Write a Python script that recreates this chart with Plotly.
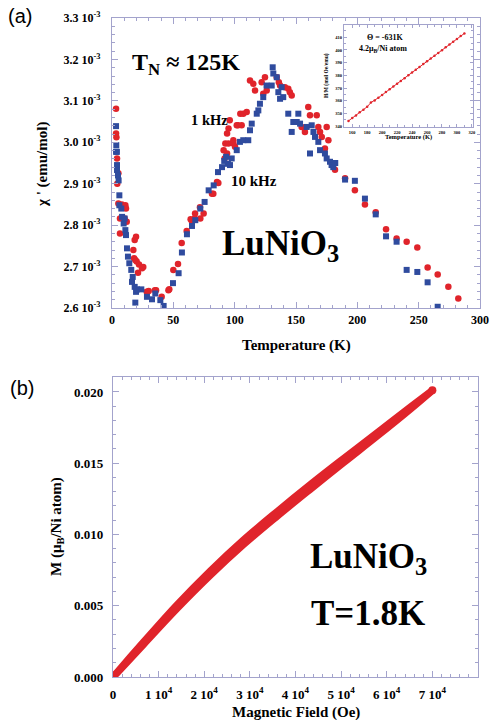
import plotly.graph_objects as go

# ---------------- Panel (a): chi' vs T ----------------
T_1khz = [3.3, 3.3, 3.6, 4.1, 4.3, 5.2, 5.2, 6.5, 6.5, 8.0, 10.3, 10.9, 11.4, 12.0,
          17.4, 18.0, 18.5, 19.0, 19.6, 20.1, 21.2, 22.0, 24.5, 25.5, 28.3, 29.9,
          35.0, 35.9, 40.5, 46.0, 46.7, 50.0, 53.8, 56.8, 60.9, 64.1, 65.2, 67.4,
          67.7, 71.7, 72.0, 74.7, 81.5, 82.6, 85.6, 86.7, 91.0, 91.8, 92.4, 93.8,
          93.8, 95.0, 95.0, 96.0, 98.9, 99.0, 100.3, 101.7, 102.7, 104.6, 105.7,
          107.0, 109.8, 112.5, 115.2, 116.6, 122.0, 123.3, 124.7, 126.1, 134.3,
          136.0, 137.0, 141.0, 143.7, 145.0, 146.5, 154.6, 157.3, 160.0, 161.4,
          166.9, 168.2, 169.6, 171.0, 173.6, 175.0, 176.4, 181.8, 190.0, 198.0,
          206.2, 215.0, 223.4, 232.0, 240.2, 248.9, 257.3, 265.5, 274.2, 282.3]
chi_1khz = [3.081, 3.021, 3.012, 2.961, 2.900, 2.925, 2.852, 2.816, 2.780, 2.850,
            2.816, 2.848, 2.840, 2.808, 2.740, 2.720, 2.764, 2.716, 2.772, 2.712,
            2.685, 2.705, 2.696, 2.699, 2.639, 2.641, 2.643, 2.643, 2.627, 2.643,
            2.645, 2.692, 2.706, 2.757, 2.786, 2.814, 2.808, 2.816, 2.828, 2.843,
            2.816, 2.828, 2.876, 2.876, 2.904, 2.902, 2.981, 2.961, 2.997, 3.021,
            2.973, 3.033, 2.997, 3.053, 3.005, 2.997, 2.989, 3.041, 3.041, 3.069,
            3.041, 3.069, 3.073, 3.149, 3.141, 3.125, 3.145, 3.117, 3.157, 3.125,
            3.157, 3.145, 3.137, 3.133, 3.129, 3.121, 3.113, 3.037, 3.025, 3.085,
            3.065, 3.065, 3.037, 3.025, 3.013, 2.985, 3.037, 3.005, 2.934, 2.913,
            2.884, 2.850, 2.831, 2.790, 2.768, 2.760, 2.746, 2.698, 2.681, 2.651,
            2.623]

T_10khz = [3.3, 3.3, 3.5, 4.0, 4.1, 4.1, 4.9, 5.4, 6.0, 6.0, 7.6, 8.2, 9.5, 10.3,
           10.9, 11.4, 12.2, 13.0, 14.1, 15.7, 16.3, 16.9, 18.5, 19.0, 19.6, 20.4,
           23.9, 28.5, 32.6, 35.3, 39.4, 42.1, 49.7, 54.3, 57.0, 61.1, 65.2, 67.9,
           72.0, 75.5, 78.8, 82.9, 86.4, 89.7, 91.5, 93.0, 94.5, 96.2, 97.6, 101.7,
           104.3, 107.0, 111.1, 112.5, 113.9, 118.0, 119.3, 120.6, 123.3, 126.0,
           130.2, 131.0, 131.5, 134.3, 135.6, 137.0, 138.3, 139.6, 143.7, 146.5,
           147.8, 150.6, 151.9, 153.3, 158.7, 161.4, 162.8, 164.2, 165.5, 168.2,
           169.6, 173.6, 175.0, 177.7, 179.0, 180.4, 182.0, 190.0, 198.0, 206.2,
           215.0, 223.4, 232.0, 240.2, 248.9, 257.3, 265.5]
chi_10khz = [3.039, 2.977, 2.993, 2.977, 2.945, 2.933, 2.920, 2.908, 2.872, 2.848,
             2.840, 2.820, 2.804, 2.816, 2.788, 2.776, 2.744, 2.724, 2.708, 2.692,
             2.663, 2.675, 2.651, 2.613, 2.639, 2.645, 2.645, 2.627, 2.621, 2.635,
             2.619, 2.605, 2.660, 2.684, 2.734, 2.778, 2.798, 2.812, 2.840, 2.856,
             2.884, 2.896, 2.928, 2.940, 2.955, 2.965, 2.948, 2.945, 2.961, 2.981,
             3.001, 3.005, 3.005, 3.029, 3.045, 3.069, 3.077, 3.093, 3.109, 3.137,
             3.137, 3.181, 3.166, 3.157, 3.121, 3.105, 3.133, 3.109, 3.069, 3.025,
             3.049, 3.049, 3.069, 3.045, 3.037, 2.973, 3.041, 3.025, 3.013, 3.001,
             2.981, 2.973, 2.961, 2.953, 2.945, 2.940, 2.950, 2.910, 2.907, 2.864,
             2.826, 2.773, 2.760, 2.692, 2.687, 2.662, 2.603]

chi_ticks = [2.6, 2.7, 2.8, 2.9, 3.0, 3.1, 3.2, 3.3]
chi_ticktext = ["2.6 10<sup>-3</sup>", "2.7 10<sup>-3</sup>", "2.8 10<sup>-3</sup>",
                "2.9 10<sup>-3</sup>", "3.0 10<sup>-3</sup>", "3.1 10<sup>-3</sup>",
                "3.2 10<sup>-3</sup>", "3.3 10<sup>-3</sup>"]
T_ticks = [0, 50, 100, 150, 200, 250, 300]

# ---------------- Inset: H/M vs T ----------------
T_inset = [155, 160, 165, 170, 175, 180, 185, 190, 195, 200, 205, 210, 215, 220,
           225, 230, 235, 240, 245, 250, 255, 260, 265, 270, 275, 280, 285, 290,
           295, 300, 305, 310]
HM_inset = [344.2, 346.4, 348.5, 350.9, 353.0, 355.3, 358.6, 360.2, 362.4, 364.6,
            366.9, 369.0, 371.2, 373.5, 375.6, 377.8, 380.1, 382.3, 384.4, 386.6,
            388.9, 391.0, 393.2, 395.5, 397.6, 399.8, 402.1, 404.3, 406.4, 408.6,
            410.9, 413.0]
inset_xticks = [160, 180, 200, 220, 240, 260, 280, 300, 320]
inset_yticks = [340, 350, 360, 370, 380, 390, 400, 410, 420]

# ---------------- Panel (b): M vs H ----------------
H_field = [0, 800, 6700, 14000, 21300, 28600, 36000, 43300, 50600, 58000, 65300, 70000]
M_up = [0.0, 0.00025, 0.00228, 0.00478, 0.00712, 0.00928, 0.01128, 0.01318, 0.01505,
        0.01692, 0.01882, 0.02010]
M_down = [0.0, 0.00030, 0.00246, 0.00506, 0.00744, 0.00962, 0.01162, 0.01352, 0.01535,
          0.01718, 0.01898, 0.02012]
H_ticks = [0, 10000, 20000, 30000, 40000, 50000, 60000, 70000, 80000]
H_ticktext = ["0", "1 10<sup>4</sup>", "2 10<sup>4</sup>", "3 10<sup>4</sup>",
              "4 10<sup>4</sup>", "5 10<sup>4</sup>", "6 10<sup>4</sup>",
              "7 10<sup>4</sup>", "8 10<sup>4</sup>"]
M_ticks = [0.0, 0.005, 0.010, 0.015, 0.020]
M_ticktext = ["0.000", "0.005", "0.010", "0.015", "0.020"]

RED = "#e0242b"
BLUE = "#2f4b9e"
AX = "#a3a3cc"
SERIF = "Liberation Serif"

fig = go.Figure()

fig.add_trace(go.Scatter(x=T_1khz, y=chi_1khz, mode="markers",
                         marker=dict(symbol="circle", size=6.5, color=RED),
                         xaxis="x", yaxis="y", showlegend=False))
fig.add_trace(go.Scatter(x=T_10khz, y=chi_10khz, mode="markers",
                         marker=dict(symbol="square", size=6, color=BLUE),
                         xaxis="x", yaxis="y", showlegend=False))
fig.add_trace(go.Scatter(x=T_inset, y=HM_inset, mode="lines+markers",
                         line=dict(color=RED, width=1),
                         marker=dict(size=2.5, color=RED),
                         xaxis="x3", yaxis="y3", showlegend=False))
fig.add_trace(go.Scatter(x=H_field, y=M_up, mode="lines", line=dict(color=RED, width=7, shape="spline"),
                         xaxis="x2", yaxis="y2", showlegend=False))
fig.add_trace(go.Scatter(x=H_field, y=M_down, mode="lines", line=dict(color=RED, width=7, shape="spline"),
                         xaxis="x2", yaxis="y2", showlegend=False))
fig.add_trace(go.Scatter(x=[H_field[-1], H_field[0]], y=[M_down[-1], M_down[0]], mode="markers",
                         marker=dict(size=8, color=RED),
                         xaxis="x2", yaxis="y2", showlegend=False))

def axstyle(**kw):
    d = dict(showline=True, linecolor=AX, linewidth=1.2, mirror="allticks",
             ticks="inside", ticklen=6, tickcolor=AX, tickwidth=1,
             showgrid=False, zeroline=False, automargin=False,
             tickfont=dict(family=SERIF, size=12, color="black", weight="bold"))
    d.update(kw)
    return d

W, H = 490, 720
fig.update_layout(
    width=W, height=H, margin=dict(l=0, r=0, t=0, b=0),
    paper_bgcolor="white", plot_bgcolor="white",
    xaxis=axstyle(domain=[112 / W, 480 / W], anchor="y", range=[0, 300],
                  tickvals=T_ticks,
                  minor=dict(ticks="inside", ticklen=3, dtick=10, tickcolor=AX)),
    yaxis=axstyle(domain=[1 - 308 / H, 1 - 18 / H], anchor="x", range=[2.6, 3.3],
                  tickvals=chi_ticks, ticktext=chi_ticktext, ticklabelstandoff=8,
                  minor=dict(ticks="inside", ticklen=3, dtick=0.02, tickcolor=AX)),
    xaxis2=axstyle(domain=[113 / W, 478 / W], anchor="y2", range=[0, 80000],
                   tickvals=H_ticks, ticktext=H_ticktext, ticklabelstandoff=5,
                   tickfont=dict(family=SERIF, size=13, color="black", weight="bold"),
                   minor=dict(ticks="inside", ticklen=3, dtick=2000, tickcolor=AX)),
    yaxis2=axstyle(domain=[1 - 677 / H, 1 - 377 / H], anchor="x2", range=[0, 0.02105],
                   tickvals=M_ticks, ticktext=M_ticktext, ticklabelstandoff=6,
                   tickfont=dict(family=SERIF, size=13, color="black", weight="bold"),
                   minor=dict(ticks="inside", ticklen=3, dtick=0.001, tickcolor=AX)),
    xaxis3=axstyle(domain=[344 / W, 473 / W], anchor="y3", range=[149, 321.5],
                   tickvals=inset_xticks, ticklen=3,
                   tickfont=dict(family=SERIF, size=4.5, color="black", weight="bold"),
                   minor=dict(ticks="inside", ticklen=2, dtick=10, tickcolor=AX)),
    yaxis3=axstyle(domain=[1 - 127 / H, 1 - 25 / H], anchor="x3", range=[339.4, 419.6],
                   tickvals=inset_yticks, ticklen=3,
                   tickfont=dict(family=SERIF, size=4.5, color="black", weight="bold"),
                   minor=dict(ticks="inside", ticklen=2, dtick=5, tickcolor=AX)),
)

def ann(text, x, y, size, family=SERIF, bold=True, angle=0, xanchor="center"):
    fig.add_annotation(text=text, x=x / W, y=1 - y / H, xref="paper", yref="paper",
                       showarrow=False, textangle=angle, xanchor=xanchor, yanchor="middle",
                       font=dict(family=family, size=size, color="black",
                                 weight="bold" if bold else "normal"))

# panel labels
ann("(a)", 20, 16, 20, family="Liberation Sans", bold=False)
ann("(b)", 22, 388, 20, family="Liberation Sans", bold=False)

# axis titles
ann("Temperature (K)", 296, 345, 15)
ann("χ ' (emu/mol)", 43, 165, 15, angle=-90)
ann("Magnetic Field (Oe)", 296, 712, 15)
ann("M (μ<sub>B</sub>/Ni atom)", 57, 527, 15, angle=-90)

# panel (a) texts
ann("T<sub>N</sub> ≈ 125K", 130, 64, 24, xanchor="left")
ann("1 kHz", 209, 120, 14.5)
ann("10 kHz", 254, 181, 15)
ann("LuNiO<sub>3</sub>", 280, 245, 35)

# inset texts
ann("Θ = -631K", 385, 37, 8)
ann("4.2μ<sub>B</sub>/Ni atom", 383, 49, 8)
ann("H/M (mol Oe/emu)", 327, 76, 5.5, angle=-90)
ann("Temperature (K)", 408, 137, 6.5)

# panel (b) texts
ann("LuNiO<sub>3</sub>", 368, 558, 35)
ann("T=1.8K", 368, 613, 35)

fig.write_html("out.html", config={"displayModeBar": False},
               post_script="document.body.style.margin='0';document.body.style.overflow='hidden';")
